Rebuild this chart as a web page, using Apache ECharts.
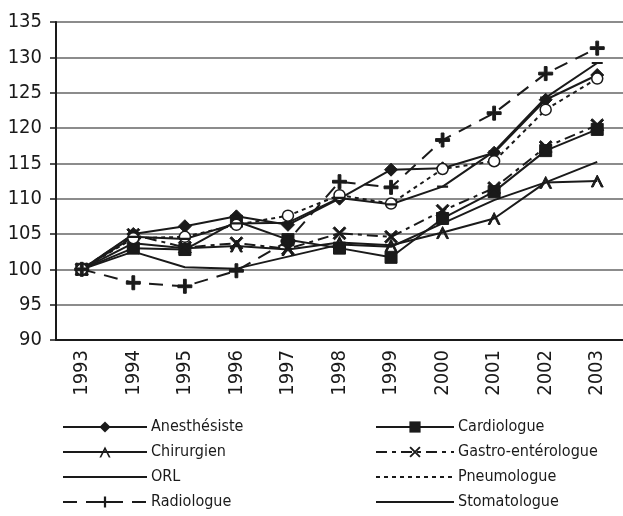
<!DOCTYPE html>
<html>
<head>
<meta charset="utf-8">
<script src="https://cdn.jsdelivr.net/npm/echarts@6/dist/echarts.min.js"></script>
<style>
  html, body { margin: 0; padding: 0; background: #fff; }
  #chart { width: 623px; height: 516px; }
</style>
</head>
<body>
<div id="chart"></div>
<script>
const years = ['1993', '1994', '1995', '1996', '1997', '1998', '1999', '2000', '2001', '2002', '2003']

const anesthesiste = [100, 105, 106.1, 107.5, 106.3, 110, 114.1, 114.3, 116.5, 124, 127.5]
const cardiologue = [100, 103, 102.8, 106.8, 104.2, 103, 101.7, 107.2, 111, 116.8, 119.8]
const chirurgien = [100, 103.7, 103, 103.3, 102.8, 103.8, 103.4, 105.2, 107.2, 112.3, 112.5]
const gastro = [100, 104.9, 103.1, 103.7, 102.9, 105.1, 104.6, 108.3, 111.5, 117.3, 120.4]
const orl = [100, 102.5, 100.3, 100.1, 101.8, 103.5, 103.2, 106.5, 109.8, 112.3, 115.2]
const pneumologue = [100, 104.4, 104.6, 106.3, 107.6, 110.5, 109.3, 114.2, 115.3, 122.6, 127]
const radiologue = [100, 98.1, 97.6, 99.8, 104, 112.4, 111.6, 118.3, 122.1, 127.7, 131.3]
const stomatologue = [100, 104.6, 104.3, 106.5, 106.6, 110.1, 109.2, 111.7, 116.7, 124.3, 129.2]

const yTicks = { min: 90, max: 135, step: 5 }

const FONT = "'Liberation Sans Narrow', 'DejaVu Sans Condensed', 'Arial Narrow', sans-serif"
const INK = '#1a1a1a'

const symPlus = 'path://M4,0H6V4H10V6H6V10H4V6H0V4H4Z'
const symCross = 'path://M0,1.2L1.2,0L10,8.8L8.8,10Z M8.8,0L10,1.2L1.2,10L0,8.8Z'
const symChevron = 'path://M0,10L5,0L10,10L8.4,10L5,3.2L1.6,10Z'
// flat bar; zero-area sub-paths keep the box square so it doesn't get stretched
const symDash = 'path://M0,0L0,10L0,0Z M0,4H10V6H0Z M10,0L10,10L10,0Z'

function line(name, data, opts) {
  return Object.assign({
    name: name,
    type: 'line',
    data: data,
    symbol: 'none',
    symbolSize: 10,
    symbolKeepAspect: true,
    lineStyle: { width: 2, color: INK, type: 'solid' },
    itemStyle: { color: INK, borderColor: INK },
    z: 3,
  }, opts)
}

const series = [
  line('Anesthésiste', anesthesiste, { symbol: 'diamond', symbolSize: 13 }),
  line('Cardiologue', cardiologue, { symbol: 'rect', symbolSize: 12 }),
  line('Chirurgien', chirurgien, { symbol: symChevron, symbolSize: 12 }),
  line('Gastro-entérologue', gastro, {
    symbol: symCross, symbolSize: 13,
    lineStyle: { width: 2, color: INK, type: [11, 5, 4, 5] },
  }),
  line('ORL', orl, {}),
  line('Pneumologue', pneumologue, {
    symbol: 'circle', symbolSize: 11,
    itemStyle: { color: '#fff', borderColor: INK, borderWidth: 1.5 },
    lineStyle: { width: 2, color: INK, type: [4, 4] },
  }),
  line('Radiologue', radiologue, {
    symbol: symPlus, symbolSize: 14,
    lineStyle: { width: 2, color: INK, type: [14, 9] },
  }),
  line('Stomatologue', stomatologue, {
    symbol: symDash, symbolSize: 11,
    itemStyle: { color: INK, borderWidth: 0 },
  }),
]

// two hand-placed legend columns, four rows each
const legendCommon = {
  orient: 'vertical',
  top: 419,
  height: 97,
  padding: 0,
  itemHeight: 14,
  itemGap: 9,
  selectedMode: false,
  textStyle: { fontFamily: FONT, fontSize: 16, color: INK, padding: [0, 0, 0, -1] },
}

const chart = echarts.init(document.getElementById('chart'))
chart.setOption({
  animation: false,
  backgroundColor: '#fff',
  textStyle: { fontFamily: FONT },
  legend: [
    Object.assign({}, legendCommon, {
      left: 62,
      itemWidth: 84,
      data: ['Anesthésiste', 'Chirurgien',
        { name: 'ORL', itemStyle: { opacity: 0 } }, 'Radiologue'],
    }),
    Object.assign({}, legendCommon, {
      left: 375,
      itemWidth: 78,
      data: ['Cardiologue', 'Gastro-entérologue',
        { name: 'Pneumologue', itemStyle: { opacity: 0 } }, 'Stomatologue'],
    }),
  ],
  grid: { left: 56, top: 22, width: 570, height: 318, containLabel: false },
  xAxis: {
    type: 'category',
    data: years,
    boundaryGap: true,
    axisLine: { lineStyle: { color: INK, width: 2 } },
    axisTick: { length: 6, lineStyle: { color: INK, width: 1.5 } },
    axisLabel: { rotate: 90, fontFamily: FONT, fontSize: 20, color: INK, margin: 10 },
    splitLine: { show: false },
  },
  yAxis: {
    type: 'value',
    min: yTicks.min,
    max: yTicks.max,
    interval: yTicks.step,
    axisLine: { show: true, lineStyle: { color: INK, width: 2 } },
    axisTick: { show: true, length: 6, lineStyle: { color: INK, width: 1.5 } },
    axisLabel: { fontFamily: FONT, fontSize: 20, color: INK, margin: 14 },
    splitLine: { lineStyle: { color: '#666', width: 1.5 } },
  },
  series: series,
})
</script>
</body>
</html>
